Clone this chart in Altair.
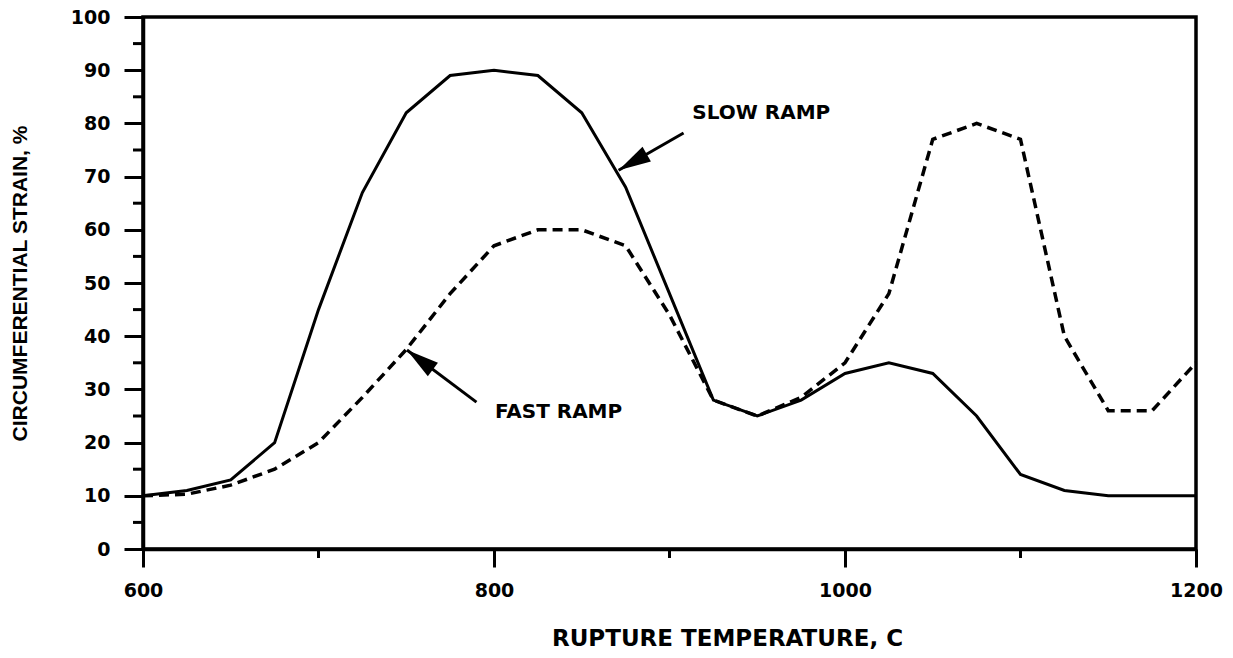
import math
import altair as alt
import pandas as pd

# ---- data ----
temps = [600, 625, 650, 675, 700, 725, 750, 775, 800, 825, 850, 875, 900,
         925, 950, 975, 1000, 1025, 1050, 1075, 1100, 1125, 1150, 1175, 1200]
slow = [10, 11, 13, 20, 45, 67, 82, 89, 90, 89, 82, 68, 48,
        28, 25, 28, 33, 35, 33, 25, 14, 11, 10, 10, 10]
fast = [10, 10.3, 12, 15, 20, 28.5, 37.5, 48, 57, 60, 60, 57, 44,
        28, 25, 28.5, 35, 48, 77, 80, 77, 40, 26, 26, 35]

y_major = [0, 10, 20, 30, 40, 50, 60, 70, 80, 90, 100]
y_minor = [5, 15, 25, 35, 45, 55, 65, 75, 85, 95]
x_major = [600, 800, 1000, 1200]
x_minor = [700, 900, 1100]

label_text = ["SLOW RAMP", "FAST RAMP"]
label_x = [913, 800.5]
label_y = [82, 25.7]
arrow_tail_x = [908, 790]
arrow_tail_y = [78.2, 27.6]
arrow_tip_x = [871, 750.4]
arrow_tip_y = [71.2, 37.4]

W, H = 1053, 532
XMIN, XMAX, YMIN, YMAX = 600, 1200, 0, 100

# ---- tables ----
lines = pd.DataFrame({"t": temps, "slow": slow, "fast": fast})
ymin_df = pd.DataFrame({"v": y_minor})
xmin_df = pd.DataFrame({"v": x_minor})
lab_df = pd.DataFrame({"x": label_x, "y": label_y, "text": label_text})


def px(x):
    return (x - XMIN) / (XMAX - XMIN) * W


def py(y):
    return (YMAX - y) / (YMAX - YMIN) * H


angles = []
for tx, ty, hx, hy in zip(arrow_tail_x, arrow_tail_y, arrow_tip_x, arrow_tip_y):
    dx = px(hx) - px(tx)
    dy = py(hy) - py(ty)
    angles.append(math.degrees(math.atan2(dx, -dy)) % 360)
arr_df = pd.DataFrame({"x": arrow_tail_x, "y": arrow_tail_y,
                       "x2": arrow_tip_x, "y2": arrow_tip_y, "ang": angles})

xs = alt.Scale(domain=[XMIN, XMAX], nice=False, zero=False)
ys = alt.Scale(domain=[YMIN, YMAX], nice=False, zero=False)

TICK_FONT = "DejaVu Sans"

x_axis = alt.Axis(values=x_major, format="d", tickSize=18, tickWidth=3,
                  tickColor="black", labelPadding=14, labelFont=TICK_FONT,
                  labelFontWeight="bold", labelFontSize=19, labelColor="black",
                  labelFlush=False, labelOverlap=False,
                  domainColor="black", domainWidth=3.5, grid=False,
                  title="RUPTURE TEMPERATURE, C", titleFont="DejaVu Sans",
                  titleFontWeight="bold", titleFontSize=23, titleColor="black",
                  titleX=584, titleY=89, titleBaseline="middle", titleAlign="center")
y_axis = alt.Axis(values=y_major, format="d", tickSize=19, tickWidth=3,
                  tickColor="black", labelPadding=14, labelFont=TICK_FONT,
                  labelFontWeight="bold", labelFontSize=19, labelColor="black",
                  labelFlush=False, labelOverlap=False,
                  domainColor="black", domainWidth=3.5, grid=False,
                  title="CIRCUMFERENTIAL STRAIN, %", titleFont="Liberation Sans",
                  titleFontWeight="bold", titleFontSize=21, titleColor="black",
                  titleX=-123, titleY=266, titleAngle=270, titleBaseline="middle",
                  titleAlign="center")


def X(field):
    return alt.X(field, scale=xs, axis=x_axis)


def Y(field):
    return alt.Y(field, scale=ys, axis=y_axis)


base = alt.Chart(lines)

slow_line = base.mark_line(color="black", strokeWidth=3).encode(
    x=X("t:Q"), y=Y("slow:Q"),
)
fast_line = base.mark_line(color="black", strokeWidth=3.5, strokeDash=[10, 6]).encode(
    x=X("t:Q"), y=Y("fast:Q"),
)

y_minor_ticks = alt.Chart(ymin_df).mark_rule(color="black", strokeWidth=3).encode(
    y=Y("v:Q"), x=alt.value(-10), x2=alt.value(0),
)
x_minor_ticks = alt.Chart(xmin_df).mark_rule(color="black", strokeWidth=3).encode(
    x=X("v:Q"), y=alt.value(H), y2=alt.value(H + 9),
)

arrow_shafts = alt.Chart(arr_df).mark_rule(color="black", strokeWidth=3).encode(
    x=X("x:Q"), y=Y("y:Q"), x2="x2:Q", y2="y2:Q",
)
arrow_heads = alt.Chart(arr_df).mark_point(
    shape="M0,0 L0.26,1 L-0.26,1 Z", filled=True, size=4200,
    color="black", opacity=1, strokeWidth=0,
).encode(
    x=X("x2:Q"), y=Y("y2:Q"),
    angle=alt.Angle("ang:Q", scale=None),
)

labels = alt.Chart(lab_df).mark_text(
    align="left", baseline="middle", font="DejaVu Sans", fontWeight="bold",
    fontSize=20, color="black",
).encode(
    x=X("x:Q"), y=Y("y:Q"), text="text:N",
)

chart = alt.layer(
    slow_line, fast_line, y_minor_ticks, x_minor_ticks,
    arrow_shafts, arrow_heads, labels,
).properties(
    width=W, height=H,
    autosize=alt.AutoSizeParams(type="none"),
    padding={"left": 143, "top": 17, "right": 37, "bottom": 109},
    background="white",
).configure_view(stroke="black", strokeWidth=3.5)

chart.save("out.html", embed_options={"renderer": "svg", "actions": False})
